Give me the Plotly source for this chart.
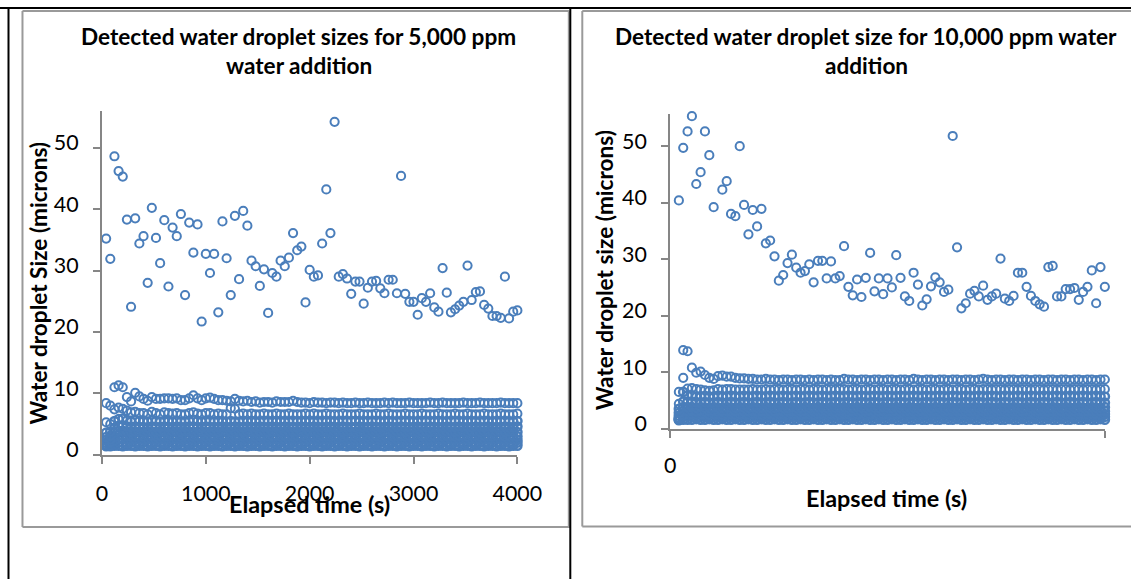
import plotly.graph_objects as go

# ---------------- data: 5,000 ppm (left) ----------------
TIME_5000 = [40, 80, 120, 160, 200, 240, 280, 320, 360, 400,
             440, 480, 520, 560, 600, 640, 680, 720, 760, 800,
             840, 880, 920, 960, 1000, 1040, 1080, 1120, 1160, 1200,
             1240, 1280, 1320, 1360, 1400, 1440, 1480, 1520, 1560, 1600,
             1640, 1680, 1720, 1760, 1800, 1840, 1880, 1920, 1960, 2000,
             2040, 2080, 2120, 2160, 2200, 2240, 2280, 2320, 2360, 2400,
             2440, 2480, 2520, 2560, 2600, 2640, 2680, 2720, 2760, 2800,
             2840, 2880, 2920, 2960, 3000, 3040, 3080, 3120, 3160, 3200,
             3240, 3280, 3320, 3360, 3400, 3440, 3480, 3520, 3560, 3600,
             3640, 3680, 3720, 3760, 3800, 3840, 3880, 3920, 3960, 4000]

LARGEST_5000 = [35.2, 31.9, 48.6, 46.2, 45.3, 38.3, 24.1, 38.5, 34.4, 35.6,
                28.0, 40.2, 35.3, 31.2, 38.2, 27.4, 37.0, 35.6, 39.2, 26.0,
                37.8, 32.9, 37.5, 21.7, 32.7, 29.6, 32.7, 23.2, 38.0, 32.0,
                26.0, 38.9, 28.6, 39.7, 37.3, 31.6, 30.7, 27.5, 30.2, 23.1,
                29.6, 29.0, 31.6, 30.7, 32.1, 36.1, 33.3, 33.9, 24.8, 30.1,
                29.0, 29.2, 34.4, 43.2, 36.1, 54.2, 29.0, 29.4, 28.7, 26.2,
                28.2, 28.2, 24.6, 27.2, 28.2, 28.3, 27.1, 26.3, 28.5, 28.5,
                26.3, 45.4, 26.2, 24.9, 24.9, 22.8, 25.5, 24.9, 26.3, 24.0,
                23.3, 30.4, 26.4, 23.2, 23.7, 24.3, 24.9, 30.8, 25.2, 26.5,
                26.6, 24.4, 23.8, 22.6, 22.6, 22.3, 29.0, 22.2, 23.3, 23.5]

BAND_A_5000 = [8.4, 8.0, 11.0, 11.3, 11.0, 9.4, 8.7, 10.1, 9.5, 9.1,
               8.8, 9.4, 9.1, 9.1, 9.2, 9.2, 9.1, 9.2, 8.9, 8.9,
               9.2, 9.7, 9.2, 8.9, 9.2, 9.3, 9.1, 8.9, 8.9, 8.8,
               8.7, 9.1, 8.8, 8.7, 8.8, 8.6, 8.7, 8.5, 8.6, 8.6,
               8.5, 8.7, 8.6, 8.6, 8.6, 8.8, 8.6, 8.5, 8.5, 8.4,
               8.6, 8.5, 8.5, 8.4, 8.5, 8.5, 8.4, 8.5, 8.4, 8.4,
               8.5, 8.4, 8.4, 8.5, 8.4, 8.4, 8.4, 8.5, 8.4, 8.5,
               8.4, 8.4, 8.4, 8.5, 8.4, 8.4, 8.4, 8.4, 8.5, 8.4,
               8.4, 8.5, 8.4, 8.4, 8.4, 8.4, 8.5, 8.4, 8.4, 8.4,
               8.5, 8.4, 8.4, 8.4, 8.4, 8.5, 8.4, 8.4, 8.4, 8.4]
BAND_B_5000 = [5.3, 5.0, 7.4, 7.7, 7.5, 7.2, 6.9, 7.0, 6.8, 6.8,
               6.6, 7.0, 6.8, 6.6, 6.9, 6.8, 6.7, 6.8, 6.6, 6.6,
               6.8, 6.9, 6.7, 6.6, 6.8, 6.8, 6.6, 6.7, 6.6, 6.6,
               7.6, 7.5, 6.6, 6.7, 6.6, 6.7, 6.6, 6.6, 6.7, 6.6,
               6.6, 6.7, 6.6, 6.6, 6.7, 6.6, 6.6, 6.6, 6.7, 6.6,
               6.7, 6.6, 6.6, 6.7, 6.6, 6.6, 6.6, 6.7, 6.6, 6.6,
               6.6, 6.7, 6.6, 6.6, 6.6, 6.7, 6.6, 6.6, 6.7, 6.6,
               6.6, 6.6, 6.7, 6.6, 6.6, 6.6, 6.7, 6.6, 6.6, 6.6,
               6.7, 6.6, 6.6, 6.6, 6.7, 6.6, 6.6, 6.7, 6.6, 6.6,
               6.6, 6.7, 6.6, 6.6, 6.6, 6.7, 6.6, 6.6, 6.6, 6.7]
BAND_C_5000 = [3.6, 3.8, 5.5, 5.8, 5.9, 5.6, 5.4, 5.6, 5.5, 5.5,
               5.4, 5.6, 5.5, 5.4, 5.5, 5.5, 5.4, 5.5, 5.4, 5.4,
               5.5, 5.6, 5.5, 5.4, 5.5, 5.5, 5.4, 5.5, 5.4, 5.4,
               5.5, 5.4, 5.4, 5.5, 5.4, 5.5, 5.4, 5.4, 5.5, 5.4,
               5.5, 5.4, 5.5, 5.4, 5.4, 5.5, 5.4, 5.5, 5.4, 5.5,
               5.4, 5.4, 5.5, 5.4, 5.5, 5.4, 5.4, 5.5, 5.4, 5.5,
               5.5, 5.4, 5.4, 5.5, 5.4, 5.5, 5.4, 5.4, 5.5, 5.4,
               5.4, 5.5, 5.4, 5.5, 5.4, 5.4, 5.5, 5.4, 5.5, 5.4,
               5.5, 5.4, 5.4, 5.5, 5.4, 5.5, 5.4, 5.4, 5.5, 5.4,
               5.4, 5.5, 5.4, 5.4, 5.5, 5.4, 5.5, 5.4, 5.4, 5.5]
BAND_D_5000 = [2.9, 3.1, 4.4, 4.7, 4.8, 4.6, 4.5, 4.6, 4.5, 4.5,
               4.4, 4.6, 4.5, 4.5, 4.6, 4.5, 4.5, 4.6, 4.5, 4.5,
               4.6, 4.6, 4.5, 4.5, 4.6, 4.5, 4.5, 4.5, 4.6, 4.5,
               4.5, 4.6, 4.5, 4.5, 4.6, 4.5, 4.5, 4.6, 4.5, 4.5,
               4.6, 4.5, 4.5, 4.6, 4.5, 4.5, 4.5, 4.6, 4.5, 4.5,
               4.6, 4.5, 4.5, 4.5, 4.6, 4.5, 4.5, 4.6, 4.5, 4.5,
               4.5, 4.6, 4.5, 4.5, 4.6, 4.5, 4.5, 4.5, 4.6, 4.5,
               4.5, 4.6, 4.5, 4.5, 4.5, 4.6, 4.5, 4.5, 4.6, 4.5,
               4.5, 4.5, 4.6, 4.5, 4.5, 4.6, 4.5, 4.5, 4.5, 4.6,
               4.5, 4.5, 4.6, 4.5, 4.5, 4.5, 4.6, 4.5, 4.5, 4.6]
BAND_E_5000 = [2.4, 2.5, 3.6, 3.9, 3.9, 3.8, 3.7, 3.8, 3.8, 3.7,
               3.8, 3.8, 3.7, 3.8, 3.8, 3.7, 3.8, 3.8, 3.7, 3.8,
               3.8, 3.7, 3.8, 3.8, 3.7, 3.8, 3.8, 3.7, 3.8, 3.8,
               3.7, 3.8, 3.8, 3.7, 3.8, 3.8, 3.7, 3.8, 3.8, 3.7,
               3.8, 3.8, 3.7, 3.8, 3.8, 3.7, 3.8, 3.8, 3.7, 3.8,
               3.8, 3.7, 3.8, 3.8, 3.7, 3.8, 3.8, 3.7, 3.8, 3.8,
               3.7, 3.8, 3.8, 3.7, 3.8, 3.8, 3.7, 3.8, 3.8, 3.7,
               3.8, 3.8, 3.7, 3.8, 3.8, 3.7, 3.8, 3.8, 3.7, 3.8,
               3.8, 3.7, 3.8, 3.8, 3.7, 3.8, 3.8, 3.7, 3.8, 3.8,
               3.7, 3.8, 3.8, 3.7, 3.8, 3.8, 3.7, 3.8, 3.8, 3.7]
BAND_F_5000 = [2.0, 2.1, 2.9, 3.2, 3.2, 3.1, 3.0, 3.1, 3.1, 3.0,
               3.1, 3.1, 3.0, 3.1, 3.1, 3.0, 3.1, 3.1, 3.0, 3.1,
               3.1, 3.0, 3.1, 3.1, 3.0, 3.1, 3.1, 3.0, 3.1, 3.1,
               3.0, 3.1, 3.1, 3.0, 3.1, 3.1, 3.0, 3.1, 3.1, 3.0,
               3.1, 3.1, 3.0, 3.1, 3.1, 3.0, 3.1, 3.1, 3.0, 3.1,
               3.1, 3.0, 3.1, 3.1, 3.0, 3.1, 3.1, 3.0, 3.1, 3.1,
               3.0, 3.1, 3.1, 3.0, 3.1, 3.1, 3.0, 3.1, 3.1, 3.0,
               3.1, 3.1, 3.0, 3.1, 3.1, 3.0, 3.1, 3.1, 3.0, 3.1,
               3.1, 3.0, 3.1, 3.1, 3.0, 3.1, 3.1, 3.0, 3.1, 3.1,
               3.0, 3.1, 3.1, 3.0, 3.1, 3.1, 3.0, 3.1, 3.1, 3.0]
BAND_G_5000 = [1.7, 1.8, 2.3, 2.6, 2.5, 2.5, 2.4, 2.5, 2.5, 2.4,
               2.5, 2.5, 2.4, 2.5, 2.5, 2.4, 2.5, 2.5, 2.4, 2.5,
               2.5, 2.4, 2.5, 2.5, 2.4, 2.5, 2.5, 2.4, 2.5, 2.5,
               2.4, 2.5, 2.5, 2.4, 2.5, 2.5, 2.4, 2.5, 2.5, 2.4,
               2.5, 2.5, 2.4, 2.5, 2.5, 2.4, 2.5, 2.5, 2.4, 2.5,
               2.5, 2.4, 2.5, 2.5, 2.4, 2.5, 2.5, 2.4, 2.5, 2.5,
               2.4, 2.5, 2.5, 2.4, 2.5, 2.5, 2.4, 2.5, 2.5, 2.4,
               2.5, 2.5, 2.4, 2.5, 2.5, 2.4, 2.5, 2.5, 2.4, 2.5,
               2.5, 2.4, 2.5, 2.5, 2.4, 2.5, 2.5, 2.4, 2.5, 2.5,
               2.4, 2.5, 2.5, 2.4, 2.5, 2.5, 2.4, 2.5, 2.5, 2.4]
BAND_H_5000 = [1.5, 1.5, 1.8, 2.0, 2.0, 1.9, 2.0, 2.0, 1.9, 2.0,
               2.0, 1.9, 2.0, 2.0, 1.9, 2.0, 2.0, 1.9, 2.0, 2.0,
               1.9, 2.0, 2.0, 1.9, 2.0, 2.0, 1.9, 2.0, 2.0, 1.9,
               2.0, 2.0, 1.9, 2.0, 2.0, 1.9, 2.0, 2.0, 1.9, 2.0,
               2.0, 1.9, 2.0, 2.0, 1.9, 2.0, 2.0, 1.9, 2.0, 2.0,
               1.9, 2.0, 2.0, 1.9, 2.0, 2.0, 1.9, 2.0, 2.0, 1.9,
               2.0, 2.0, 1.9, 2.0, 2.0, 1.9, 2.0, 2.0, 1.9, 2.0,
               2.0, 1.9, 2.0, 2.0, 1.9, 2.0, 2.0, 1.9, 2.0, 2.0,
               1.9, 2.0, 2.0, 1.9, 2.0, 2.0, 1.9, 2.0, 2.0, 1.9,
               2.0, 2.0, 1.9, 2.0, 2.0, 1.9, 2.0, 2.0, 1.9, 2.0]
BAND_I_5000 = [1.4, 1.4, 1.5, 1.5, 1.4, 1.5, 1.5, 1.4, 1.5, 1.5,
               1.4, 1.5, 1.5, 1.4, 1.5, 1.5, 1.4, 1.5, 1.5, 1.4,
               1.5, 1.5, 1.4, 1.5, 1.5, 1.4, 1.5, 1.5, 1.4, 1.5,
               1.5, 1.4, 1.5, 1.5, 1.4, 1.5, 1.5, 1.4, 1.5, 1.5,
               1.4, 1.5, 1.5, 1.4, 1.5, 1.5, 1.4, 1.5, 1.5, 1.4,
               1.5, 1.5, 1.4, 1.5, 1.5, 1.4, 1.5, 1.5, 1.4, 1.5,
               1.5, 1.4, 1.5, 1.5, 1.4, 1.5, 1.5, 1.4, 1.5, 1.5,
               1.4, 1.5, 1.5, 1.4, 1.5, 1.5, 1.4, 1.5, 1.5, 1.4,
               1.5, 1.5, 1.4, 1.5, 1.5, 1.4, 1.5, 1.5, 1.4, 1.5,
               1.5, 1.4, 1.5, 1.5, 1.4, 1.5, 1.5, 1.4, 1.5, 1.5]

# ---------------- data: 10,000 ppm (right) ----------------
TIME_10000 = [80, 120, 160, 200, 240, 280, 320, 360, 400, 440,
              480, 520, 560, 600, 640, 680, 720, 760, 800, 840,
              880, 920, 960, 1000, 1040, 1080, 1120, 1160, 1200, 1240,
              1280, 1320, 1360, 1400, 1440, 1480, 1520, 1560, 1600, 1640,
              1680, 1720, 1760, 1800, 1840, 1880, 1920, 1960, 2000, 2040,
              2080, 2120, 2160, 2200, 2240, 2280, 2320, 2360, 2400, 2440,
              2480, 2520, 2560, 2600, 2640, 2680, 2720, 2760, 2800, 2840,
              2880, 2920, 2960, 3000, 3040, 3080, 3120, 3160, 3200, 3240,
              3280, 3320, 3360, 3400, 3440, 3480, 3520, 3560, 3600, 3640,
              3680, 3720, 3760, 3800, 3840, 3880, 3920, 3960, 4000]

LARGEST_10000 = [40.4, 49.7, 52.6, 55.3, 43.3, 45.4, 52.6, 48.4, 39.2, None,
                 42.3, 43.8, 38.0, 37.6, 50.0, 39.6, 34.4, 38.7, 35.8, 38.9,
                 32.8, 33.3, 30.5, 26.2, 27.2, 29.3, 30.8, 28.5, 27.6, 27.9,
                 29.1, 25.9, 29.7, 29.7, 26.6, 29.6, 26.6, 27.0, 32.3, 25.1,
                 23.6, 26.4, 23.3, 26.7, 31.1, 24.3, 26.6, 23.8, 26.6, 25.0,
                 30.7, 26.7, 23.4, 22.6, 27.6, 25.5, 21.8, 22.9, 25.2, 26.8,
                 25.9, 24.2, 24.6, 51.8, 32.1, 21.3, 22.2, 23.9, 24.4, 23.4,
                 25.3, 22.8, 23.4, 23.9, 30.1, 23.0, 22.6, 23.5, 27.6, 27.6,
                 25.1, 23.5, 22.6, 22.0, 21.6, 28.6, 28.8, 23.4, 23.4, 24.7,
                 24.7, 24.9, 22.8, 24.2, 25.1, 28.0, 22.2, 28.6, 25.1]

BAND_A_10000 = [6.5, 13.9, 13.7, 10.8, 9.9, 10.1, 9.5, 9.0, 8.8, 9.3,
                9.4, 9.2, 9.2, 9.0, 8.9, 8.9, 8.8, 8.8, 8.7, 8.7,
                8.8, 8.7, 8.7, 8.6, 8.7, 8.7, 8.6, 8.7, 8.7, 8.6,
                8.7, 8.6, 8.7, 8.7, 8.6, 8.7, 8.6, 8.6, 8.8, 8.7,
                8.7, 8.6, 8.7, 8.7, 8.6, 8.7, 8.7, 8.6, 8.7, 8.7,
                8.6, 8.7, 8.7, 8.6, 8.8, 8.7, 8.6, 8.7, 8.7, 8.6,
                8.7, 8.7, 8.6, 8.7, 8.7, 8.6, 8.7, 8.7, 8.6, 8.7,
                8.8, 8.7, 8.6, 8.7, 8.7, 8.6, 8.7, 8.7, 8.6, 8.7,
                8.7, 8.6, 8.7, 8.7, 8.6, 8.7, 8.7, 8.6, 8.7, 8.7,
                8.6, 8.7, 8.7, 8.6, 8.7, 8.7, 8.6, 8.7, 8.7]
BAND_B_10000 = [4.4, 9.0, 7.1, 7.2, 7.0, 6.9, 6.8, 6.7, 6.8, 7.0,
                6.9, 7.0, 7.0, 6.9, 6.9, 6.9, 6.9, 7.0, 6.9, 6.9,
                7.0, 6.9, 7.0, 7.0, 6.9, 7.0, 7.0, 6.9, 7.0, 7.0,
                6.9, 7.0, 7.0, 6.9, 7.0, 7.0, 6.9, 7.0, 7.0, 6.9,
                7.0, 7.0, 6.9, 7.0, 7.0, 6.9, 7.0, 7.0, 6.9, 7.0,
                7.0, 6.9, 7.0, 7.0, 6.9, 7.0, 7.0, 6.9, 7.0, 7.0,
                6.9, 7.0, 7.0, 6.9, 7.0, 7.0, 6.9, 7.0, 7.0, 6.9,
                7.0, 7.0, 6.9, 7.0, 7.0, 6.9, 7.0, 7.0, 6.9, 7.0,
                7.0, 6.9, 7.0, 7.0, 6.9, 7.0, 7.0, 6.9, 7.0, 7.0,
                6.9, 7.0, 7.0, 6.9, 7.0, 7.0, 6.9, 7.0, 7.0]
BAND_C_10000 = [3.5, 6.5, 5.9, 5.9, 5.7, 5.7, 5.8, 5.7, 5.7, 5.8,
                5.7, 5.7, 5.8, 5.7, 5.7, 5.8, 5.7, 5.7, 5.8, 5.7,
                5.7, 5.8, 5.7, 5.7, 5.8, 5.7, 5.7, 5.8, 5.7, 5.7,
                5.8, 5.7, 5.7, 5.8, 5.7, 5.7, 5.8, 5.7, 5.7, 5.8,
                5.7, 5.7, 5.8, 5.7, 5.7, 5.8, 5.7, 5.7, 5.8, 5.7,
                5.7, 5.8, 5.7, 5.7, 5.8, 5.7, 5.7, 5.8, 5.7, 5.7,
                5.8, 5.7, 5.7, 5.8, 5.7, 5.7, 5.8, 5.7, 5.7, 5.8,
                5.7, 5.7, 5.8, 5.7, 5.7, 5.8, 5.7, 5.7, 5.8, 5.7,
                5.7, 5.8, 5.7, 5.7, 5.8, 5.7, 5.7, 5.8, 5.7, 5.7,
                5.8, 5.7, 5.7, 5.8, 5.7, 5.7, 5.8, 5.7, 5.7]
BAND_D_10000 = [2.8, 4.8, 4.8, 4.7, 4.7, 4.6, 4.7, 4.6, 4.6, 4.7,
                4.6, 4.6, 4.7, 4.6, 4.6, 4.7, 4.6, 4.6, 4.7, 4.6,
                4.6, 4.7, 4.6, 4.6, 4.7, 4.6, 4.6, 4.7, 4.6, 4.6,
                4.7, 4.6, 4.6, 4.7, 4.6, 4.6, 4.7, 4.6, 4.6, 4.7,
                4.6, 4.6, 4.7, 4.6, 4.6, 4.7, 4.6, 4.6, 4.7, 4.6,
                4.6, 4.7, 4.6, 4.6, 4.7, 4.6, 4.6, 4.7, 4.6, 4.6,
                4.7, 4.6, 4.6, 4.7, 4.6, 4.6, 4.7, 4.6, 4.6, 4.7,
                4.6, 4.6, 4.7, 4.6, 4.6, 4.7, 4.6, 4.6, 4.7, 4.6,
                4.6, 4.7, 4.6, 4.6, 4.7, 4.6, 4.6, 4.7, 4.6, 4.6,
                4.7, 4.6, 4.6, 4.7, 4.6, 4.6, 4.7, 4.6, 4.6]
BAND_E_10000 = [2.3, 3.8, 3.8, 3.8, 3.7, 3.8, 3.7, 3.7, 3.8, 3.7,
                3.7, 3.8, 3.7, 3.7, 3.8, 3.7, 3.7, 3.8, 3.7, 3.7,
                3.8, 3.7, 3.7, 3.8, 3.7, 3.7, 3.8, 3.7, 3.7, 3.8,
                3.7, 3.7, 3.8, 3.7, 3.7, 3.8, 3.7, 3.7, 3.8, 3.7,
                3.7, 3.8, 3.7, 3.7, 3.8, 3.7, 3.7, 3.8, 3.7, 3.7,
                3.8, 3.7, 3.7, 3.8, 3.7, 3.7, 3.8, 3.7, 3.7, 3.8,
                3.7, 3.7, 3.8, 3.7, 3.7, 3.8, 3.7, 3.7, 3.8, 3.7,
                3.7, 3.8, 3.7, 3.7, 3.8, 3.7, 3.7, 3.8, 3.7, 3.7,
                3.8, 3.7, 3.7, 3.8, 3.7, 3.7, 3.8, 3.7, 3.7, 3.8,
                3.7, 3.7, 3.8, 3.7, 3.7, 3.8, 3.7, 3.7, 3.8]
BAND_F_10000 = [1.9, 3.1, 3.1, 3.1, 3.0, 3.1, 3.0, 3.1, 3.1, 3.0,
                3.1, 3.1, 3.0, 3.1, 3.1, 3.0, 3.1, 3.1, 3.0, 3.1,
                3.1, 3.0, 3.1, 3.1, 3.0, 3.1, 3.1, 3.0, 3.1, 3.1,
                3.0, 3.1, 3.1, 3.0, 3.1, 3.1, 3.0, 3.1, 3.1, 3.0,
                3.1, 3.1, 3.0, 3.1, 3.1, 3.0, 3.1, 3.1, 3.0, 3.1,
                3.1, 3.0, 3.1, 3.1, 3.0, 3.1, 3.1, 3.0, 3.1, 3.1,
                3.0, 3.1, 3.1, 3.0, 3.1, 3.1, 3.0, 3.1, 3.1, 3.0,
                3.1, 3.1, 3.0, 3.1, 3.1, 3.0, 3.1, 3.1, 3.0, 3.1,
                3.1, 3.0, 3.1, 3.1, 3.0, 3.1, 3.1, 3.0, 3.1, 3.1,
                3.0, 3.1, 3.1, 3.0, 3.1, 3.1, 3.0, 3.1, 3.1]
BAND_G_10000 = [1.7, 2.6, 2.6, 2.6, 2.5, 2.6, 2.6, 2.5, 2.6, 2.6,
                2.5, 2.6, 2.6, 2.5, 2.6, 2.6, 2.5, 2.6, 2.6, 2.5,
                2.6, 2.6, 2.5, 2.6, 2.6, 2.5, 2.6, 2.6, 2.5, 2.6,
                2.6, 2.5, 2.6, 2.6, 2.5, 2.6, 2.6, 2.5, 2.6, 2.6,
                2.5, 2.6, 2.6, 2.5, 2.6, 2.6, 2.5, 2.6, 2.6, 2.5,
                2.6, 2.6, 2.5, 2.6, 2.6, 2.5, 2.6, 2.6, 2.5, 2.6,
                2.6, 2.5, 2.6, 2.6, 2.5, 2.6, 2.6, 2.5, 2.6, 2.6,
                2.5, 2.6, 2.6, 2.5, 2.6, 2.6, 2.5, 2.6, 2.6, 2.5,
                2.6, 2.6, 2.5, 2.6, 2.6, 2.5, 2.6, 2.6, 2.5, 2.6,
                2.6, 2.5, 2.6, 2.6, 2.5, 2.6, 2.6, 2.5, 2.6]
BAND_H_10000 = [1.6, 2.1, 2.1, 2.1, 2.0, 2.1, 2.1, 2.0, 2.1, 2.1,
                2.0, 2.1, 2.1, 2.0, 2.1, 2.1, 2.0, 2.1, 2.1, 2.0,
                2.1, 2.1, 2.0, 2.1, 2.1, 2.0, 2.1, 2.1, 2.0, 2.1,
                2.1, 2.0, 2.1, 2.1, 2.0, 2.1, 2.1, 2.0, 2.1, 2.1,
                2.0, 2.1, 2.1, 2.0, 2.1, 2.1, 2.0, 2.1, 2.1, 2.0,
                2.1, 2.1, 2.0, 2.1, 2.1, 2.0, 2.1, 2.1, 2.0, 2.1,
                2.1, 2.0, 2.1, 2.1, 2.0, 2.1, 2.1, 2.0, 2.1, 2.1,
                2.0, 2.1, 2.1, 2.0, 2.1, 2.1, 2.0, 2.1, 2.1, 2.0,
                2.1, 2.1, 2.0, 2.1, 2.1, 2.0, 2.1, 2.1, 2.0, 2.1,
                2.1, 2.0, 2.1, 2.1, 2.0, 2.1, 2.1, 2.0, 2.1]
BAND_I_10000 = [1.5, 1.6, 1.6, 1.6, 1.7, 1.6, 1.6, 1.7, 1.6, 1.6,
                1.7, 1.6, 1.6, 1.7, 1.6, 1.6, 1.7, 1.6, 1.6, 1.7,
                1.6, 1.6, 1.7, 1.6, 1.6, 1.7, 1.6, 1.6, 1.7, 1.6,
                1.6, 1.7, 1.6, 1.6, 1.7, 1.6, 1.6, 1.7, 1.6, 1.6,
                1.7, 1.6, 1.6, 1.7, 1.6, 1.6, 1.7, 1.6, 1.6, 1.7,
                1.6, 1.6, 1.7, 1.6, 1.6, 1.7, 1.6, 1.6, 1.7, 1.6,
                1.6, 1.7, 1.6, 1.6, 1.7, 1.6, 1.6, 1.7, 1.6, 1.6,
                1.7, 1.6, 1.6, 1.7, 1.6, 1.6, 1.7, 1.6, 1.6, 1.7,
                1.6, 1.6, 1.7, 1.6, 1.6, 1.7, 1.6, 1.6, 1.7, 1.6,
                1.6, 1.7, 1.6, 1.6, 1.7, 1.6, 1.6, 1.7, 1.6]

Y_TICKS = [0, 10, 20, 30, 40, 50]
X_TICKS_LEFT = [0, 1000, 2000, 3000, 4000]
X_TICKS_RIGHT = [0, 4000]
X_TICKTEXT_RIGHT = ["0", ""]

UPPER_5000 = [BAND_B_5000, BAND_A_5000, LARGEST_5000]
LOWER_5000 = [BAND_I_5000, BAND_H_5000, BAND_G_5000, BAND_F_5000, BAND_E_5000,
              BAND_D_5000, BAND_C_5000]
UPPER_10000 = [BAND_B_10000, BAND_A_10000, LARGEST_10000]
LOWER_10000 = [BAND_I_10000, BAND_H_10000, BAND_G_10000, BAND_F_10000, BAND_E_10000,
               BAND_D_10000, BAND_C_10000]

# ---------------- page geometry ----------------
# Figure size and the measured mapping from figure pixels to the photographed page.
FW, FH = 1161, 592
SX, SY, OX, OY = 0.9745, 0.979, 6.5, 0.0


def px_x(xs):
    """screen x (px) -> paper fraction"""
    return ((xs - OX) / SX) / FW


def px_y(ys):
    """screen y (px, from top) -> paper fraction"""
    return 1 - ((ys - OY) / SY) / FH


BLUE = "#4A7EBB"
AXIS_GREY = "#868686"
FONT = "Lato"

marker_thin = dict(symbol="circle-open", size=8.2, color=BLUE, line=dict(width=2.0, color=BLUE))
marker_thick = dict(symbol="circle-open", size=8.2, color=BLUE, line=dict(width=2.5, color=BLUE))

fig = go.Figure()
for ys in LOWER_5000:
    fig.add_trace(go.Scatter(x=TIME_5000, y=ys, mode="markers", marker=marker_thick,
                             xaxis="x", yaxis="y", cliponaxis=False, showlegend=False))
for ys in UPPER_5000:
    fig.add_trace(go.Scatter(x=TIME_5000, y=ys, mode="markers", marker=marker_thin,
                             xaxis="x", yaxis="y", cliponaxis=False, showlegend=False))
for ys in LOWER_10000:
    fig.add_trace(go.Scatter(x=TIME_10000, y=ys, mode="markers", marker=marker_thick,
                             xaxis="x2", yaxis="y2", cliponaxis=False, showlegend=False))
for ys in UPPER_10000:
    fig.add_trace(go.Scatter(x=TIME_10000, y=ys, mode="markers", marker=marker_thin,
                             xaxis="x2", yaxis="y2", cliponaxis=False, showlegend=False))

tickfont = dict(family=FONT, size=21.4, color="black")
axis_common = dict(showline=True, linecolor=AXIS_GREY, linewidth=2, ticks="outside",
                   ticklen=7, tickwidth=2, tickcolor=AXIS_GREY, showgrid=False,
                   zeroline=False, tickfont=tickfont, fixedrange=True)

fig.update_layout(
    width=FW, height=FH,
    margin=dict(l=0, r=0, t=0, b=0),
    paper_bgcolor="white", plot_bgcolor="white",
    showlegend=False,
    xaxis=dict(domain=[px_x(102.6), px_x(518.5)], range=[0, 4000], tickmode="array",
               tickvals=X_TICKS_LEFT, anchor="y", ticklabelstandoff=11, **axis_common),
    yaxis=dict(domain=[px_y(450.6), px_y(110.4)], range=[0, 55.9], tickmode="array",
               tickvals=Y_TICKS, anchor="x", ticklabelstandoff=10, ticklabelshift=-5,
               **axis_common),
    xaxis2=dict(domain=[px_x(671.5), px_x(1106.7)], range=[0, 4000], tickmode="array",
                tickvals=X_TICKS_RIGHT, ticktext=X_TICKTEXT_RIGHT, anchor="y2",
                ticklabelstandoff=10, **axis_common),
    yaxis2=dict(domain=[px_y(424.7), px_y(112.6)], range=[0, 55.75], tickmode="array",
                tickvals=Y_TICKS, anchor="x2", ticklabelstandoff=10, ticklabelshift=-5,
                **axis_common),
)


def text(s, x, y, size, angle=0):
    fig.add_annotation(text=f"<b>{s}</b>", x=px_x(x), y=px_y(y),
                       xref="paper", yref="paper", xanchor="center", yanchor="middle",
                       showarrow=False, textangle=angle,
                       font=dict(family=FONT, size=size, color="black"))


TITLE_SIZE = 22.6
text("Detected water droplet sizes for 5,000 ppm", 299.5, 36.5, TITLE_SIZE)
text("water addition", 299.5, 64.5, TITLE_SIZE)
text("Detected water droplet size for 10,000 ppm water", 868, 36.5, TITLE_SIZE)
text("addition", 868.5, 64.5, TITLE_SIZE)
text("Water droplet Size (microns)", 39, 280.5, 22.6, angle=-90)
text("Water droplet size (microns)", 606, 268, 22.6, angle=-90)
text("Elapsed time (s)", 310, 499.5, 23.4)
text("Elapsed time (s)", 888.5, 493.5, 23.4)

# table borders and chart frames (screen px)
FRAME = "#9A9A9A"
shapes = [
    dict(x0=23, y0=11, x1=23, y1=522, color=FRAME),
    dict(x0=23, y0=11, x1=570.5, y1=11, color=FRAME),
    dict(x0=23, y0=522, x1=571.5, y1=522, color=FRAME),
    dict(x0=570, y0=11, x1=570, y1=522, color=FRAME),
    dict(x0=583.5, y0=11, x1=583.5, y1=521.5, color=FRAME),
    dict(x0=583.5, y0=11, x1=1140, y1=11, color=FRAME),
    dict(x0=583.5, y0=521.5, x1=1140, y1=521.5, color=FRAME),
    dict(x0=0, y0=8, x1=1140, y1=8, color="black"),
    dict(x0=9, y0=8, x1=9, y1=590, color="black"),
    dict(x0=571.5, y0=8, x1=571.5, y1=590, color="black"),
]
for s in shapes:
    fig.add_shape(type="line", xref="paper", yref="paper",
                  x0=px_x(s["x0"]), x1=px_x(s["x1"]), y0=px_y(s["y0"]), y1=px_y(s["y1"]),
                  line=dict(color=s["color"], width=2), layer="above")

fig.write_html("out.html")
